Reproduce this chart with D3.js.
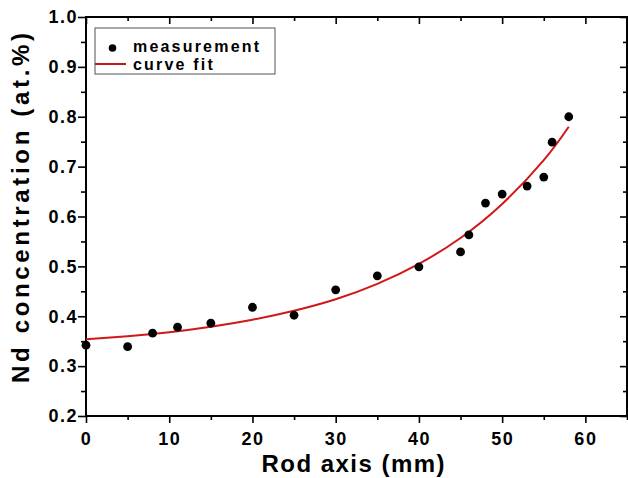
<!DOCTYPE html>
<html>
<head>
<meta charset="utf-8">
<script src="https://cdn.jsdelivr.net/npm/d3@7"></script>
<style>
  body { margin: 0; background: #fff; }
  text { font-family: "Liberation Sans", Arial, sans-serif; font-weight: bold; fill: #000; }
</style>
</head>
<body>
<svg id="chart"></svg>
<script>
// measured Nd concentration along the rod
const rodPos = [0, 5, 8, 11, 15, 20, 25, 30, 35, 40, 45, 46, 48, 50, 53, 55, 56, 58];
const ndMeasured = [0.342, 0.339, 0.366, 0.378, 0.386, 0.418, 0.402, 0.453, 0.481, 0.499,
                    0.529, 0.563, 0.627, 0.645, 0.661, 0.679, 0.749, 0.800];

// fitted curve
const fitPos = [0, 5, 10, 15, 20, 25, 30, 35, 40, 45, 50, 55, 58];
const fitValues = [0.354, 0.360, 0.368, 0.379, 0.393, 0.411, 0.434, 0.465, 0.505, 0.557, 0.625, 0.713, 0.780];

const xTickValues = [0, 10, 20, 30, 40, 50, 60];
const xMinorTicks = [5, 15, 25, 35, 45, 55, 65];
const yTickValues = [0.2, 0.3, 0.4, 0.5, 0.6, 0.7, 0.8, 0.9, 1.0];
const yMinorTicks = [0.25, 0.35, 0.45, 0.55, 0.65, 0.75, 0.85, 0.95];

const legendLabels = ['measurement', 'curve fit'];

const config = {
    width: 628, height: 478,
    margin: {top: 17, right: 1, bottom: 62, left: 86}
};
const w = config.width - config.margin.left - config.margin.right;
const h = config.height - config.margin.top - config.margin.bottom;

const svg = d3.select('#chart')
    .attr('width', config.width)
    .attr('height', config.height);

const g = svg.append('g')
    .attr('transform', `translate(${config.margin.left},${config.margin.top})`);

const xScale = d3.scaleLinear().domain([0, 65]).range([0, w]);
const yScale = d3.scaleLinear().domain([0.2, 1.0]).range([h, 0]);

// helper to style axis groups
function styleAxis(sel) {
    sel.select('.domain').remove();
    sel.selectAll('line').attr('stroke', '#000').attr('stroke-width', 1.6);
    sel.selectAll('text')
        .style('font-size', '18px')
        .style('letter-spacing', '1.5px');
}

// bottom (outward ticks, labelled)
g.append('g')
    .attr('transform', `translate(0,${h})`)
    .call(d3.axisBottom(xScale).tickValues(xTickValues).tickSize(7).tickPadding(9)
        .tickFormat(d3.format('d')))
    .call(styleAxis);
g.append('g')
    .attr('transform', `translate(0,${h})`)
    .call(d3.axisBottom(xScale).tickValues(xMinorTicks).tickSize(4).tickFormat(''))
    .call(styleAxis);

// top (inward ticks)
g.append('g')
    .call(d3.axisTop(xScale).tickValues(xTickValues).tickSize(-7).tickFormat(''))
    .call(styleAxis);
g.append('g')
    .call(d3.axisTop(xScale).tickValues(xMinorTicks).tickSize(-4).tickFormat(''))
    .call(styleAxis);

// left (outward ticks, labelled)
g.append('g')
    .call(d3.axisLeft(yScale).tickValues(yTickValues).tickSize(8).tickPadding(0)
        .tickFormat(d3.format('.1f')))
    .call(styleAxis);
g.append('g')
    .call(d3.axisLeft(yScale).tickValues(yMinorTicks).tickSize(5).tickFormat(''))
    .call(styleAxis);

// right (inward ticks)
g.append('g')
    .attr('transform', `translate(${w},0)`)
    .call(d3.axisRight(yScale).tickValues(yTickValues).tickSize(-7).tickFormat(''))
    .call(styleAxis);
g.append('g')
    .attr('transform', `translate(${w},0)`)
    .call(d3.axisRight(yScale).tickValues(yMinorTicks).tickSize(-4).tickFormat(''))
    .call(styleAxis);

// frame
g.append('rect')
    .attr('width', w).attr('height', h)
    .attr('fill', 'none').attr('stroke', '#000').attr('stroke-width', 2);

// curve fit
const line = d3.line()
    .x((d, i) => xScale(fitPos[i]))
    .y(d => yScale(d))
    .curve(d3.curveNatural);

g.append('path')
    .datum(fitValues)
    .attr('d', line)
    .attr('fill', 'none')
    .attr('stroke', '#d01818')
    .attr('stroke-width', 2);

// measurement points
g.selectAll('.dot')
    .data(ndMeasured)
    .join('circle')
    .attr('class', 'dot')
    .attr('cx', (d, i) => xScale(rodPos[i]))
    .attr('cy', d => yScale(d))
    .attr('r', 4.4)
    .attr('fill', '#000');

// legend
const legend = g.append('g').attr('transform', 'translate(9,11)');
legend.append('rect')
    .attr('width', 180).attr('height', 46)
    .attr('fill', '#fff').attr('stroke', '#555').attr('stroke-width', 1);
legend.append('circle')
    .attr('cx', 17.5).attr('cy', 20).attr('r', 3.8).attr('fill', '#000');
legend.append('line')
    .attr('x1', 0).attr('x2', 31).attr('y1', 36).attr('y2', 36)
    .attr('stroke', '#c01818').attr('stroke-width', 2);
legend.selectAll('.leg-label')
    .data(legendLabels)
    .join('text')
    .attr('class', 'leg-label')
    .attr('x', 38)
    .attr('y', (d, i) => 23.5 + i * 18.5)
    .style('font-size', '16px')
    .style('letter-spacing', '2.2px')
    .text(d => d);

// axis titles
svg.append('text')
    .attr('x', 353)
    .attr('y', 472)
    .attr('text-anchor', 'middle')
    .attr('textLength', 183)
    .attr('lengthAdjust', 'spacing')
    .style('font-size', '24px')
    .text('Rod axis (mm)');

svg.append('text')
    .attr('transform', 'translate(29,208) rotate(-90)')
    .attr('text-anchor', 'middle')
    .attr('textLength', 350)
    .attr('lengthAdjust', 'spacing')
    .style('font-size', '24px')
    .text('Nd concentration (at.%)');
</script>
</body>
</html>
